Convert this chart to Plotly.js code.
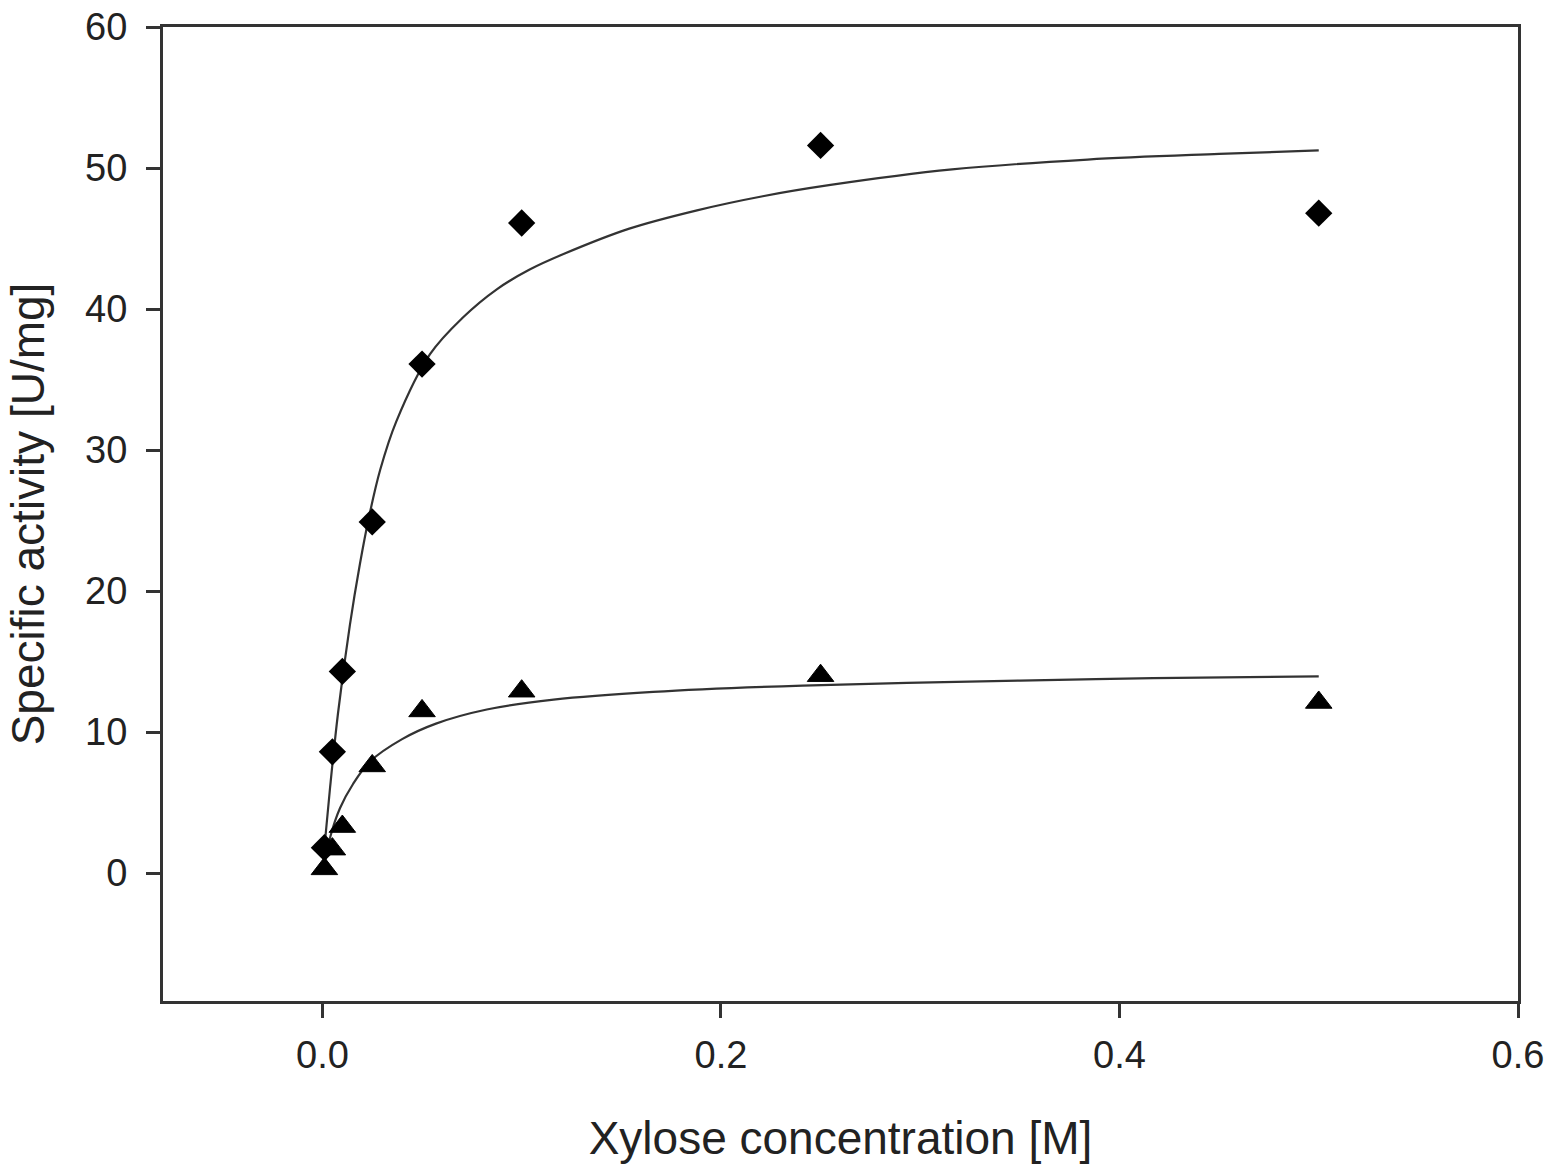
<!DOCTYPE html>
<html>
<head>
<meta charset="utf-8">
<script src="https://cdn.plot.ly/plotly-3.0.1.min.js"></script>
<style>
  html, body { margin: 0; padding: 0; background: #fff; }
  #chart { width: 1551px; height: 1173px; }
</style>
</head>
<body>
<div id="chart"></div>
<script>
    // measured points
    const concentration = [0.001, 0.005, 0.01, 0.025, 0.05, 0.1, 0.25, 0.5];
    const activityDiamond = [1.8, 8.6, 14.3, 24.9, 36.1, 46.1, 51.6, 46.8];
    const activityTriangle = [0.3, 1.7, 3.3, 7.6, 11.5, 12.9, 14.0, 12.1];

    // fitted curves
    const fitDiamondX = [0.001, 0.0038, 0.0078, 0.0138, 0.0188, 0.0233, 0.029, 0.037, 0.054, 0.0705,
        0.0875, 0.104, 0.121, 0.154, 0.188, 0.221, 0.255, 0.316, 0.384, 0.45, 0.5];
    const fitDiamondY = [1.8, 6.0, 11.3, 17.6, 21.9, 25.2, 28.6, 32.0, 36.8, 39.4,
        41.4, 42.8, 43.9, 45.7, 47.0, 48.0, 48.8, 49.9, 50.6, 51.0, 51.25];
    const fitTriangleX = [0.001, 0.004, 0.0088, 0.0153, 0.0238, 0.04, 0.057, 0.0825, 0.116, 0.166,
        0.241, 0.35, 0.417, 0.5];
    const fitTriangleY = [0.6, 2.6, 4.6, 6.3, 7.9, 9.5, 10.6, 11.6, 12.3, 12.85,
        13.3, 13.65, 13.82, 13.95];

    const xTicks = [0.0, 0.2, 0.4, 0.6];
    const yTicks = [0, 10, 20, 30, 40, 50, 60];

    const axisColor = '#333';
    const textFont = {family: 'Liberation Sans, Arial, sans-serif', size: 38, color: '#222'};
    const titleFont = {family: 'Liberation Sans, Arial, sans-serif', size: 46, color: '#222'};

    const fitLine = {color: '#333', width: 2.2, shape: 'spline', smoothing: 1};

    const data = [
        {x: fitDiamondX, y: fitDiamondY, type: 'scatter', mode: 'lines', line: fitLine},
        {x: fitTriangleX, y: fitTriangleY, type: 'scatter', mode: 'lines', line: fitLine},
        {
            x: concentration, y: activityDiamond, type: 'scatter', mode: 'markers',
            marker: {symbol: 'diamond', size: 21, color: '#000', line: {width: 0}}
        },
        {
            x: concentration, y: activityTriangle, type: 'scatter', mode: 'markers',
            marker: {symbol: 'triangle-up', size: 23, color: '#000', line: {width: 1, color: '#000'}}
        }
    ];

    const layout = {
        width: 1551,
        height: 1173,
        hovermode: false,
        showlegend: false,
        paper_bgcolor: '#fff',
        plot_bgcolor: '#fff',
        margin: {t: 27, b: 172, l: 163, r: 33},
        xaxis: {
            range: [-0.08, 0.6],
            tickvals: xTicks,
            ticktext: xTicks.map(v => v.toFixed(1)),
            ticks: 'outside',
            ticklen: 14,
            tickwidth: 3,
            tickcolor: axisColor,
            ticklabelstandoff: 4,
            showline: true,
            linewidth: 3,
            linecolor: axisColor,
            mirror: true,
            showgrid: false,
            zeroline: false,
            tickfont: textFont,
            automargin: false,
            title: {text: 'Xylose concentration [M]', font: titleFont, standoff: 48}
        },
        yaxis: {
            range: [-9.07, 60],
            tickvals: yTicks,
            ticks: 'outside',
            ticklen: 14,
            tickwidth: 3,
            tickcolor: axisColor,
            ticklabelstandoff: 11,
            showline: true,
            linewidth: 3,
            linecolor: axisColor,
            mirror: true,
            showgrid: false,
            zeroline: false,
            tickfont: textFont,
            automargin: false,
            title: {text: 'Specific activity [U/mg]', font: titleFont, standoff: 27}
        }
    };

    Plotly.newPlot('chart', data, layout, {displayModeBar: false, staticPlot: true});
</script>
</body>
</html>
